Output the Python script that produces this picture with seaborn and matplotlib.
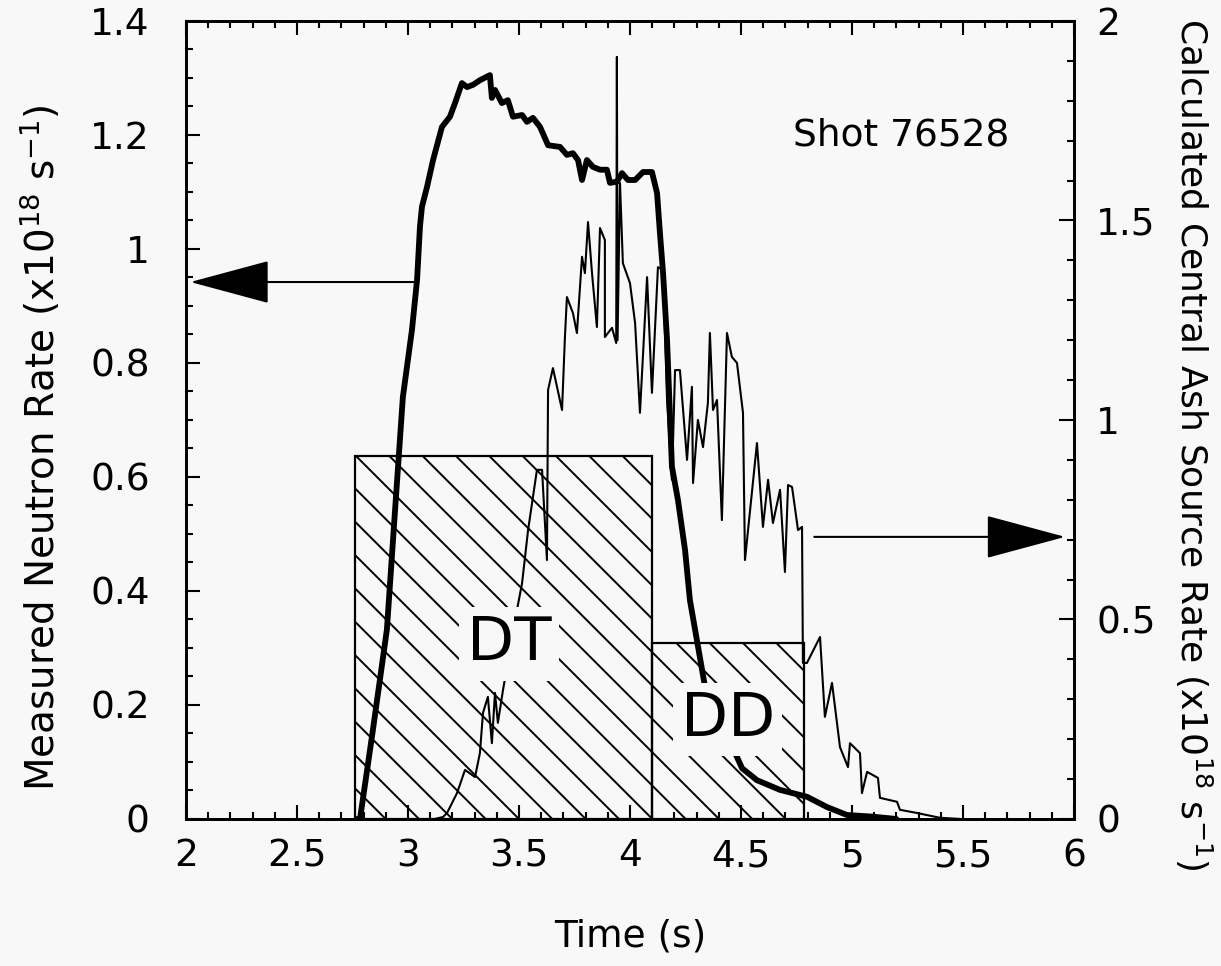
import seaborn as sns
import matplotlib.pyplot as plt
import matplotlib.ticker as ticker

# measured neutron rate, left axis (x10^18 s^-1)
neutron_t = [2.77, 2.784, 2.842, 2.905, 2.941, 2.977, 3.018, 3.041, 3.054, 3.063,
             3.086, 3.113, 3.153, 3.189, 3.212, 3.243, 3.266, 3.293, 3.324, 3.369,
             3.378, 3.392, 3.423, 3.45, 3.473, 3.514, 3.536, 3.563, 3.595, 3.631,
             3.685, 3.716, 3.743, 3.766, 3.784, 3.806, 3.833, 3.865, 3.896, 3.91,
             3.941, 3.964, 3.991, 4.023, 4.059, 4.099, 4.122, 4.135, 4.149, 4.167,
             4.189, 4.216, 4.248, 4.27, 4.338, 4.505, 4.572, 4.676, 4.797, 4.887,
             4.977, 5.095, 5.2]
neutron_rate = [0.0, 0.0, 0.156, 0.332, 0.537, 0.74, 0.858, 0.946, 1.039, 1.074,
                1.109, 1.156, 1.214, 1.232, 1.256, 1.291, 1.284, 1.288, 1.296, 1.305,
                1.265, 1.279, 1.256, 1.261, 1.232, 1.235, 1.223, 1.23, 1.214, 1.182,
                1.179, 1.165, 1.168, 1.156, 1.121, 1.156, 1.144, 1.139, 1.139, 1.116,
                1.118, 1.133, 1.121, 1.121, 1.135, 1.135, 1.098, 1.028, 0.958, 0.84,
                0.618, 0.56, 0.472, 0.384, 0.232, 0.089, 0.068, 0.051, 0.039, 0.021,
                0.007, 0.004, 0.0]

# calculated central ash source rate, right axis (x10^18 s^-1)
ash_t = [3.12, 3.158, 3.176, 3.221, 3.257, 3.302, 3.324, 3.338, 3.36, 3.378,
         3.392, 3.405, 3.428, 3.491, 3.514, 3.541, 3.581, 3.604, 3.626, 3.631,
         3.653, 3.694, 3.707, 3.716, 3.743, 3.761, 3.784, 3.797, 3.811, 3.829,
         3.851, 3.865, 3.887, 3.887, 3.919, 3.938, 3.941, 3.944, 3.955, 3.968,
         4.0, 4.023, 4.045, 4.077, 4.099, 4.126, 4.149, 4.167, 4.189, 4.203,
         4.225, 4.257, 4.279, 4.284, 4.306, 4.329, 4.351, 4.36, 4.374, 4.392,
         4.414, 4.437, 4.459, 4.482, 4.509, 4.518, 4.572, 4.599, 4.622, 4.644,
         4.676, 4.698, 4.712, 4.73, 4.757, 4.775, 4.779, 4.797, 4.856, 4.878,
         4.91, 4.946, 4.982, 4.991, 5.036, 5.045, 5.068, 5.117, 5.126, 5.203,
         5.216, 5.293, 5.396, 5.49]
ash_rate = [0.0, 0.005, 0.015, 0.065, 0.123, 0.105, 0.165, 0.266, 0.306, 0.19,
            0.316, 0.241, 0.323, 0.524, 0.591, 0.724, 0.875, 0.875, 0.649, 1.075,
            1.13, 1.025, 1.208, 1.308, 1.268, 1.218, 1.409, 1.368, 1.496, 1.368,
            1.233, 1.481, 1.451, 1.208, 1.231, 1.193, 1.91, 1.2, 1.594, 1.393,
            1.343, 1.243, 1.018, 1.358, 1.068, 1.383, 1.376, 1.05, 0.85, 1.125,
            1.125, 0.9, 1.083, 0.842, 1.0, 0.932, 1.043, 1.218, 1.025, 1.05,
            0.749, 1.218, 1.158, 1.143, 1.018, 0.649, 0.942, 0.732, 0.85, 0.742,
            0.825, 0.619, 0.837, 0.832, 0.724, 0.732, 0.391, 0.391, 0.456, 0.256,
            0.341, 0.18, 0.13, 0.19, 0.165, 0.065, 0.118, 0.103, 0.053, 0.043,
            0.023, 0.015, 0.003, 0.0]

# source phases (right axis units)
phase_labels = ['DT', 'DD']
phase_start = [2.76, 4.10]
phase_end = [4.10, 4.785]
phase_rate = [0.91, 0.44]

sns.set_style('ticks')
plt.rcParams['font.family'] = ['DejaVu Sans']
plt.rcParams['hatch.linewidth'] = 1.4
plt.rcParams['axes.linewidth'] = 2
for key in ['text.color', 'axes.labelcolor', 'xtick.color', 'ytick.color', 'axes.edgecolor']:
    plt.rcParams[key] = 'black'

bg = '#f8f8f8'
fig = plt.figure(figsize=(12.21, 9.66), dpi=100, facecolor=bg)
ax = fig.add_axes([0.1523, 0.1522, 0.7273, 0.8261], facecolor=bg)
ax2 = ax.twinx()

sns.lineplot(x=neutron_t, y=neutron_rate, ax=ax, color='black', lw=4.2,
             sort=False, estimator=None)
sns.lineplot(x=ash_t, y=ash_rate, ax=ax2, color='black', lw=1.5,
             sort=False, estimator=None)

widths = [e - s for s, e in zip(phase_start, phase_end)]
ax2.bar(phase_start, phase_rate, width=widths, align='edge', facecolor='none',
        edgecolor='black', lw=1.6, hatch='\\', zorder=1)

for lab, x, y in zip(phase_labels, [3.455, 4.441], [0.439, 0.249]):
    ax2.text(x, y, lab, fontsize=44, ha='center', va='center', zorder=10,
             bbox=dict(boxstyle='square,pad=0.12', facecolor=bg, edgecolor='none'))

ax2.text(5.22, 1.714, 'Shot 76528', fontsize=27, ha='center', va='center')

# arrows pointing to each curve's axis
ax.annotate('', xy=(2.02, 0.942), xytext=(3.03, 0.942),
            arrowprops=dict(arrowstyle='-|>,head_length=2.6,head_width=0.7',
                            mutation_scale=20, lw=1.5, color='black',
                            shrinkA=0, shrinkB=0))
ax2.annotate('', xy=(5.96, 0.707), xytext=(4.83, 0.707),
             arrowprops=dict(arrowstyle='-|>,head_length=2.6,head_width=0.7',
                             mutation_scale=20, lw=1.5, color='black',
                             shrinkA=0, shrinkB=0))

ax.set_xlim(2, 6)
ax.set_ylim(0, 1.4)
ax2.set_ylim(0, 2)

fmt = ticker.FuncFormatter(lambda v, p: f'{v:g}')
ax.xaxis.set_major_locator(ticker.MultipleLocator(0.5))
ax.xaxis.set_minor_locator(ticker.MultipleLocator(0.1))
ax.yaxis.set_major_locator(ticker.MultipleLocator(0.2))
ax.yaxis.set_minor_locator(ticker.MultipleLocator(0.05))
ax2.yaxis.set_major_locator(ticker.MultipleLocator(0.5))
ax2.yaxis.set_minor_locator(ticker.MultipleLocator(0.1))
ax.xaxis.set_major_formatter(fmt)
ax.yaxis.set_major_formatter(fmt)
ax2.yaxis.set_major_formatter(fmt)

ax.tick_params(which='both', direction='in', top=True, width=1.5)
ax.tick_params(which='major', length=10)
ax.tick_params(which='minor', length=5)
ax.tick_params(axis='x', labelsize=27, pad=14)
ax.tick_params(axis='y', labelsize=27, pad=26)
ax2.tick_params(which='both', direction='in', width=1.5)
ax2.tick_params(which='major', length=11, labelsize=27, pad=16)
ax2.tick_params(which='minor', length=5)

ax.set_xlabel('Time (s)', fontsize=27)
ax.set_ylabel('Measured Neutron Rate (x10$^{18}$ s$^{-1}$)', fontsize=28)
ax2.set_ylabel('Calculated Central Ash Source Rate (x10$^{18}$ s$^{-1}$)',
               fontsize=26, rotation=270)
ax.xaxis.set_label_coords(0.5, -0.125)
ax.yaxis.set_label_coords(-0.138, 0.465)
ax2.yaxis.set_label_coords(1.158, 0.47)
for s in ['left', 'right', 'top', 'bottom']:
    ax2.spines[s].set_linewidth(2)

fig.savefig('out.png', dpi=100, facecolor=bg)
